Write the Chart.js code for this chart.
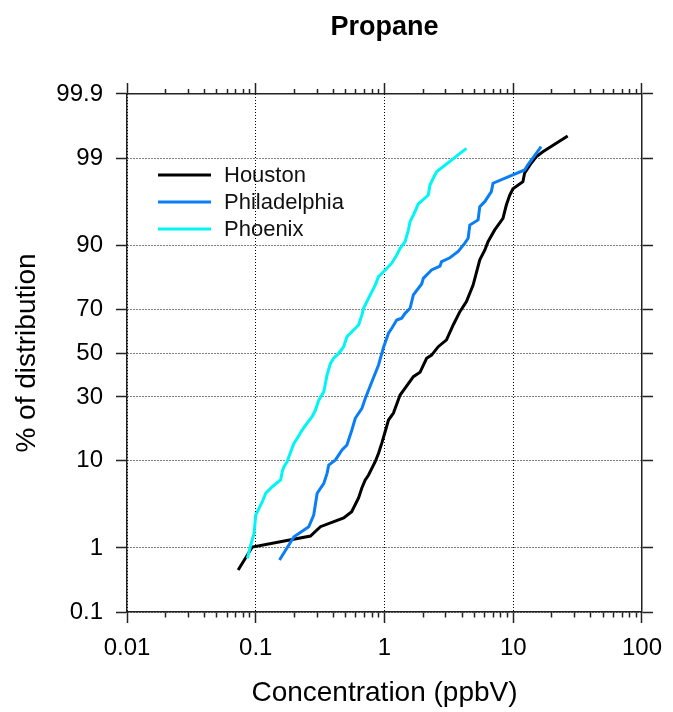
<!DOCTYPE html>
<html>
<head>
<meta charset="utf-8">
<title>Propane</title>
<script src="https://cdn.jsdelivr.net/npm/chart.js@4.4.1/dist/chart.umd.min.js"></script>
<style>
  body { margin: 0; background: #fff; }
  #wrap { width: 673px; height: 712px; }
</style>
</head>
<body>
<div id="wrap"><canvas id="propaneCanvas" width="673" height="712"></canvas></div>
<script>
// concentrations (ppbV) and cumulative % of distribution
var houstonConc = [0.073, 0.094, 0.266, 0.318, 0.482, 0.556, 0.629, 0.667, 0.709, 0.752, 0.847, 0.899, 0.953, 1.01, 1.074, 1.174, 1.322, 1.446, 1.676, 1.888, 2.124, 2.322, 2.616, 3.032, 3.418, 3.851, 4.33, 4.879, 5.498, 6.009, 6.372, 7.18, 8.324, 8.829, 9.38, 9.95, 11.89, 12.25, 13.77, 15.07, 16.98, 26.49];
var houstonPct = [0.48, 1.03, 1.45, 1.91, 2.45, 2.91, 4.18, 5.36, 6.49, 7.27, 9.73, 11.6, 14.1, 17.3, 21.2, 23.7, 30.8, 33.8, 38.9, 40.9, 47.5, 49.0, 53.0, 56.2, 63.1, 68.9, 73.0, 79.1, 86.7, 89.0, 90.8, 92.9, 94.6, 96.1, 97.0, 97.5, 97.95, 98.4, 98.82, 99.04, 99.18, 99.52];

var phillyConc = [0.153, 0.198, 0.258, 0.282, 0.300, 0.338, 0.358, 0.369, 0.416, 0.468, 0.511, 0.558, 0.593, 0.668, 0.709, 0.798, 0.899, 0.982, 1.074, 1.139, 1.245, 1.361, 1.446, 1.580, 1.676, 1.944, 2.003, 2.322, 2.697, 2.775, 3.222, 3.735, 4.209, 4.463, 4.600, 5.333, 5.498, 6.009, 6.760, 6.966, 12.25, 12.99, 16.47];
var phillyPct = [0.675, 1.42, 1.91, 2.66, 4.71, 6.0, 7.55, 9.07, 10.1, 12.35, 13.6, 17.9, 21.8, 25.5, 29.4, 36.6, 44.3, 52.6, 59.3, 61.6, 65.3, 66.1, 68.2, 70.3, 75.6, 79.5, 81.35, 83.9, 85.0, 86.2, 87.2, 88.7, 90.5, 91.45, 93.66, 94.38, 95.96, 96.45, 97.29, 97.86, 98.55, 98.76, 99.31];

var phoenixConc = [0.0861, 0.0915, 0.097, 0.100, 0.106, 0.1125, 0.1195, 0.1344, 0.1561, 0.1606, 0.1655, 0.1755, 0.1809, 0.1978, 0.2098, 0.2293, 0.2506, 0.274, 0.2911, 0.3087, 0.3375, 0.3478, 0.3579, 0.3802, 0.4033, 0.4407, 0.4818, 0.511, 0.5584, 0.6292, 0.6675, 0.688, 0.7297, 0.775, 0.8472, 0.899, 1.013, 1.139, 1.245, 1.322, 1.446, 1.533, 1.58, 1.676, 1.832, 2.19, 2.256, 2.393, 2.539, 4.33];
var phoenixPct = [0.714, 1.10, 1.57, 2.66, 3.19, 3.80, 4.71, 5.53, 6.48, 7.84, 8.74, 9.73, 10.8, 14.05, 15.4, 17.9, 20.1, 22.4, 24.8, 28.7, 32.2, 35.9, 39.6, 45.1, 47.5, 49.8, 53.0, 57.7, 60.0, 63.1, 67.5, 70.3, 73.0, 75.6, 79.1, 81.9, 83.9, 85.8, 87.9, 89.4, 90.8, 92.9, 94.14, 95.0, 96.23, 97.03, 97.75, 98.15, 98.47, 99.27];

var seriesNames = ['Houston', 'Philadelphia', 'Phoenix'];
var seriesColors = ['#000000', '#0a7ef5', '#00f5f5'];

var yTickPct = [0.1, 1, 10, 30, 50, 70, 90, 99, 99.9];
var yTickLabels = ['0.1', '1', '10', '30', '50', '70', '90', '99', '99.9'];
var xMajor = [0.01, 0.1, 1, 10, 100];
var xMajorLabels = ['0.01', '0.1', '1', '10', '100'];

var FONT = '"Liberation Sans", Arial, Helvetica, sans-serif';

// inverse normal cdf (Acklam), used for the probability axis
function probit(p) {
    var a = [-3.969683028665376e+01, 2.209460984245205e+02, -2.759285104469687e+02, 1.383577518672690e+02, -3.066479806614716e+01, 2.506628277459239e+00];
    var b = [-5.447609879822406e+01, 1.615858368580409e+02, -1.556989798598866e+02, 6.680131188771972e+01, -1.328068155288572e+01];
    var c = [-7.784894002430293e-03, -3.223964580411365e-01, -2.400758277161838e+00, -2.549732539343734e+00, 4.374664141464968e+00, 2.938163982698783e+00];
    var d = [7.784695709041462e-03, 3.224671290700398e-01, 2.445134137142996e+00, 3.754408661907416e+00];
    var plow = 0.02425, q, r;
    if (p < plow) {
        q = Math.sqrt(-2 * Math.log(p));
        return (((((c[0] * q + c[1]) * q + c[2]) * q + c[3]) * q + c[4]) * q + c[5]) /
            ((((d[0] * q + d[1]) * q + d[2]) * q + d[3]) * q + 1);
    }
    if (p <= 1 - plow) {
        q = p - 0.5;
        r = q * q;
        return (((((a[0] * r + a[1]) * r + a[2]) * r + a[3]) * r + a[4]) * r + a[5]) * q /
            (((((b[0] * r + b[1]) * r + b[2]) * r + b[3]) * r + b[4]) * r + 1);
    }
    q = Math.sqrt(-2 * Math.log(1 - p));
    return -(((((c[0] * q + c[1]) * q + c[2]) * q + c[3]) * q + c[4]) * q + c[5]) /
        ((((d[0] * q + d[1]) * q + d[2]) * q + d[3]) * q + 1);
}

function toPoints(conc, pct) {
    return conc.map(function (v, i) {
        return { x: v, y: probit(pct[i] / 100) };
    });
}

function isMajor(v) {
    var l = Math.log10(v);
    return Math.abs(l - Math.round(l)) < 1e-6;
}

// log ticks 1..9 per decade
var xTickVals = [];
for (var e = -2; e < 2; e++) {
    for (var m = 1; m < 10; m++) {
        xTickVals.push(m * Math.pow(10, e));
    }
}
xTickVals.push(100);

var yMin = probit(0.001);
var yMax = probit(0.999);

var setXTicks = function (scale) {
    scale.ticks = xTickVals.map(function (v) { return { value: v }; });
};
var setYTicks = function (scale) {
    scale.ticks = yTickPct.map(function (p) { return { value: probit(p / 100) }; });
};

var axisColor = '#222';

var insideLegend = {
    id: 'insideLegend',
    afterDatasetsDraw: function (chart) {
        var ctx = chart.ctx;
        var area = chart.chartArea;
        ctx.save();
        ctx.font = '22px ' + FONT;
        ctx.textBaseline = 'middle';
        ctx.textAlign = 'left';
        chart.data.datasets.forEach(function (ds, i) {
            var y = area.top + 81 + i * 27;
            ctx.strokeStyle = ds.borderColor;
            ctx.lineWidth = 3;
            ctx.beginPath();
            ctx.moveTo(area.left + 31, y);
            ctx.lineTo(area.left + 84, y);
            ctx.stroke();
            ctx.fillStyle = '#111';
            ctx.fillText(ds.label, area.left + 97, y + 1);
        });
        ctx.restore();
    }
};

var datasets = [
    toPoints(houstonConc, houstonPct),
    toPoints(phillyConc, phillyPct),
    toPoints(phoenixConc, phoenixPct)
].map(function (pts, i) {
    return {
        label: seriesNames[i],
        data: pts,
        borderColor: seriesColors[i],
        backgroundColor: seriesColors[i],
        borderWidth: 3,
        showLine: true,
        pointRadius: 0,
        tension: 0,
        order: 2 - i
    };
});

var ctx = document.getElementById('propaneCanvas').getContext('2d');
new Chart(ctx, {
    type: 'scatter',
    data: { datasets: datasets },
    plugins: [insideLegend],
    options: {
        responsive: false,
        animation: false,
        layout: { padding: 0 },
        plugins: {
            legend: { display: false },
            tooltip: { enabled: false },
            title: {
                display: true,
                text: 'Propane',
                fullSize: false,
                color: '#000',
                font: { family: FONT, size: 27, weight: 'bold' },
                padding: { top: 11, bottom: 38.6 }
            }
        },
        scales: {
            x: {
                type: 'logarithmic',
                position: 'bottom',
                min: 0.01,
                max: 100,
                afterBuildTicks: setXTicks,
                afterFit: function (scale) { scale.height = 100; },
                border: { display: true, color: axisColor, width: 1.5, dash: [1, 2] },
                grid: {
                    color: function (c) { return c.tick && isMajor(c.tick.value) ? '#000' : 'rgba(0,0,0,0)'; },
                    lineWidth: 1,
                    tickLength: 11,
                    tickColor: axisColor,
                    tickWidth: 1.5,
                    tickBorderDash: function (c) { return c.tick && isMajor(c.tick.value) ? [] : [5, 30]; }
                },
                ticks: {
                    autoSkip: false,
                    maxRotation: 0,
                    padding: 11,
                    color: '#000',
                    font: { family: FONT, size: 24 },
                    callback: function (v) {
                        var i = xMajor.findIndex(function (mv) { return Math.abs(mv - v) / mv < 1e-6; });
                        return i >= 0 ? xMajorLabels[i] : '';
                    }
                },
                title: {
                    display: true,
                    text: 'Concentration (ppbV)',
                    color: '#000',
                    font: { family: FONT, size: 28 },
                    padding: { top: 0, bottom: 2 }
                }
            },
            x2: {
                type: 'logarithmic',
                position: 'top',
                display: true,
                min: 0.01,
                max: 100,
                afterBuildTicks: setXTicks,
                afterFit: function (scale) { scale.height = 12; },
                border: { display: true, color: axisColor, width: 1.5 },
                grid: {
                    drawOnChartArea: false,
                    tickLength: 11,
                    tickColor: axisColor,
                    tickWidth: 1.5,
                    tickBorderDash: function (c) { return c.tick && isMajor(c.tick.value) ? [] : [0, 6, 6, 30]; }
                },
                ticks: { display: false, autoSkip: false }
            },
            y: {
                type: 'linear',
                position: 'left',
                min: yMin,
                max: yMax,
                afterBuildTicks: setYTicks,
                afterFit: function (scale) { scale.width = 127; },
                border: { display: true, color: axisColor, width: 1.5, dash: [1, 2] },
                grid: {
                    color: '#000',
                    lineWidth: 1,
                    tickLength: 11,
                    tickColor: axisColor,
                    tickWidth: 1.5,
                    tickBorderDash: []
                },
                ticks: {
                    autoSkip: false,
                    padding: 13,
                    color: '#000',
                    font: { family: FONT, size: 24 },
                    callback: function (v, i) { return yTickLabels[i]; }
                },
                title: {
                    display: true,
                    text: '% of distribution',
                    color: '#000',
                    font: { family: FONT, size: 28 },
                    padding: { top: 10, bottom: 0 }
                }
            },
            y2: {
                type: 'linear',
                position: 'right',
                display: true,
                min: yMin,
                max: yMax,
                afterBuildTicks: setYTicks,
                afterFit: function (scale) { scale.width = 30; },
                border: { display: true, color: axisColor, width: 1.5 },
                grid: {
                    drawOnChartArea: false,
                    tickLength: 11,
                    tickColor: axisColor,
                    tickWidth: 1.5
                },
                ticks: { display: false, autoSkip: false }
            }
        }
    }
});
</script>
</body>
</html>
